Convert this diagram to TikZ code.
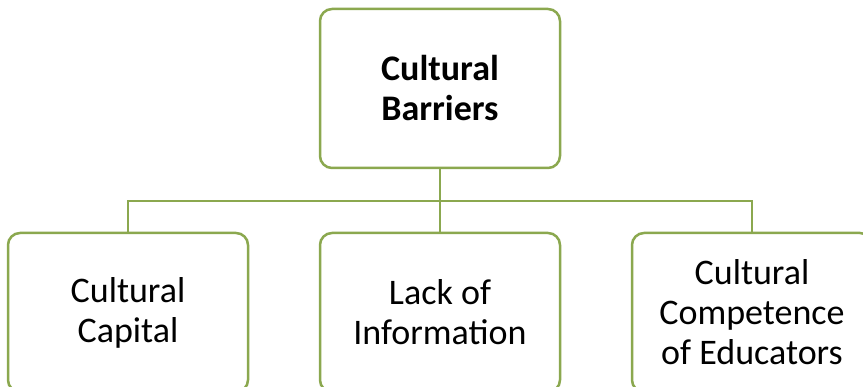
\documentclass[tikz,border=0pt]{standalone}
\usepackage{fontspec}
\setmainfont{Carlito}
\usepackage{tikz}
\usetikzlibrary{positioning}
\pgfdeclarelayer{background}
\pgfdeclarelayer{foreground}
\pgfsetlayers{background,main,foreground}
\definecolor{boxgreen}{HTML}{8BA84F}

\begin{document}
\begin{tikzpicture}[x=1pt,y=-1pt,
			boxnode/.style={rectangle, draw=boxgreen, line width=2.5pt, rounded corners=12pt, fill=white, minimum width=240pt, minimum height=159pt, align=center, font=\fontsize{36}{40}\selectfont},
			link/.style={draw=boxgreen, line width=2pt},
			]
			\useasboundingbox (0,0) rectangle (863,387);
			\clip (0,0) rectangle (863,387);
			%Nodes
			\node[boxnode]      (barriers) 	at 	(440,88.5)      {\textbf{Cultural}\\\textbf{Barriers}};
			\node[boxnode]      (capital)      at 	(128,312.5)		{Cultural\\Capital};
			\node[boxnode]      (info)      at 	(440,312.5)		{Lack of\\Information};
			\node[boxnode]      (educ)      at 	(752,312.5)		{Cultural\\Competence\\of Educators};
			\coordinate (bar) at (440,201);
			
			\begin{pgfonlayer}{background}
			%Lines
			\draw[link] (barriers.south) -- (bar) -| (capital.north);
			\draw[link] (bar) -- (info.north);
			\draw[link] (bar) -| (educ.north);
			\end{pgfonlayer}
		\end{tikzpicture}
\end{document}
